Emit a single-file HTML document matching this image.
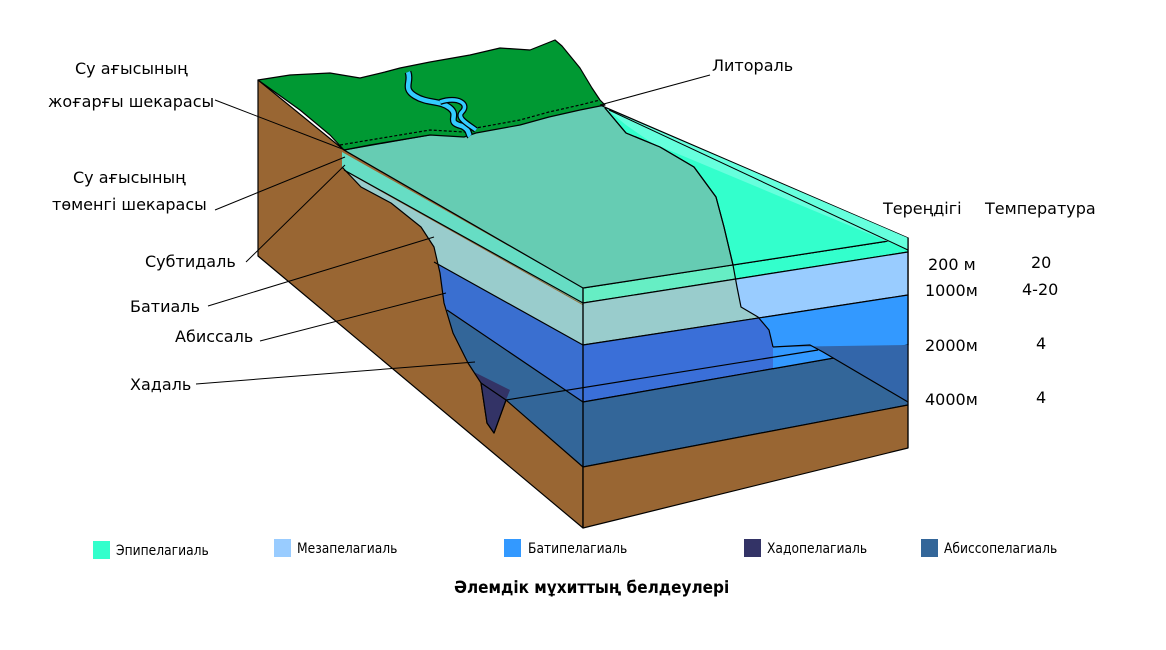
<!DOCTYPE html>
<html><head><meta charset="utf-8"><style>
body{margin:0;background:#fff;width:1166px;height:645px;overflow:hidden}
svg text{font-family:"DejaVu Sans","Liberation Sans",sans-serif;fill:#000}
.lg{font-family:"Liberation Sans",sans-serif;font-size:14px;transform:scaleX(.85)}
</style></head><body>
<svg width="1166" height="645" viewBox="0 0 1166 645" xmlns="http://www.w3.org/2000/svg">
<defs>
<clipPath id="lf"><polygon points="342,152 583,288 583,467 506,400 494,433 487,423 481,383 468,363 453,333 444,303 440,273 434,247 421,227 391,203 361,187 342,167"/></clipPath>
<clipPath id="rr"><polygon points="733,240 733,265 737,287 741,307 758,317 769,330 773,347 773,600 920,600 920,200"/></clipPath>
</defs>
<g stroke="#000" stroke-width="1.2" stroke-linejoin="round">
<!-- brown left face -->
<polygon points="258,80 344,150 583,288 583,528 258,256" fill="#996633"/>
<!-- left face water layers -->
<g clip-path="url(#lf)" stroke="none">
<polygon points="300,100 620,280 620,325 300,145" fill="#66ddc4"/>
<polygon points="300,146 620,326 620,366 300,187" fill="#99cccc"/>
<polygon points="300,187 620,366 620,427 300,211" fill="#3a6fd0"/>
<polygon points="300,212 620,427 620,520 300,300" fill="#336699"/>
<polygon points="440,400 494,433 506,400 510,390 470,370" fill="#333366"/>
</g>
<polyline fill="none" points="342,167 361,187 391,203 421,227 434,247 440,273 444,303 453,333 468,363 481,383 487,423 494,433 506,400"/>
<line x1="344" y1="170" x2="583" y2="303"/>
<line x1="434" y1="262" x2="583" y2="345"/>
<line x1="447" y1="310" x2="583" y2="402"/>
<polygon points="481,383 487,423 494,433 506,400" fill="#333366"/>
<line x1="506" y1="400" x2="583" y2="467"/>
<!-- front face -->
<polygon points="583,288 908,238 908,252 583,303" fill="#66eec4"/>
<polygon points="583,303 908,252 908,295 583,345" fill="#99cccc"/>
<polygon points="583,345 908,295 908,345 583,402" fill="#3a6fd8"/>
<polygon points="583,402 908,345 908,405 583,467" fill="#336699"/>
<polygon points="583,467 908,405 908,448 583,528" fill="#996633"/>
<g clip-path="url(#rr)">
<polygon points="583,288 908,238 908,252 583,303" fill="#33ffcc"/>
<polygon points="583,303 908,252 908,295 583,345" fill="#99ccff"/>
<polygon points="583,345 908,295 908,345 583,402" fill="#3399ff"/>
</g>
<polygon points="773,347 810,345 908,402 908,345" fill="#3366aa" stroke="none"/>
<polyline fill="none" points="773,347 810,345 823,352 908,402"/>
<line x1="506" y1="400" x2="818" y2="350"/>
<!-- top surface -->
<polygon points="344,150 600,105 908,238 583,288" fill="#66ccb3"/>
<polygon points="605,108 626,133 660,147 694,167 716,197 724,227 733,265 908,238" fill="#33ffcc"/>
<polygon points="605,108 908,238 908,250 652,143 626,125" fill="#66ffdd" stroke="none"/>
<line x1="609" y1="110" x2="908" y2="250" stroke-width="1"/>
<polyline fill="none" points="605,108 626,133 660,147 694,167 716,197 724,227 733,265 737,287 741,307 758,317 769,330 773,347"/>
<line x1="583" y1="288" x2="583" y2="528"/>
<line x1="908" y1="238" x2="908" y2="448"/>
<!-- land -->
<polygon points="258,80 290,75 330,73 360,78 385,72 400,68 430,62 470,55 500,48 530,50 555,40 562,46 580,68 592,88 600,100 605,105 580,110 549,117 520,125 476,133 464,137 430,135 400,140 370,145 344,150 330,135 300,110" fill="#009933"/>
<polyline fill="none" stroke-dasharray="3,2" points="340,145 370,140 400,135 430,130 464,132 476,128 520,120 549,112 580,105 600,100"/>
<path d="M408,72 C412,82 402,88 415,96 C428,104 440,100 450,108 C460,116 445,122 462,126 C470,130 468,134 470,136" fill="none" stroke="#000" stroke-width="7"/>
<path d="M408,72 C412,82 402,88 415,96 C428,104 440,100 450,108 C460,116 445,122 462,126 C470,130 468,134 470,136" fill="none" stroke="#33ccff" stroke-width="4.5"/>
<path d="M440,102 C458,96 470,104 462,112 C456,118 468,124 476,130" fill="none" stroke="#000" stroke-width="6"/>
<path d="M440,102 C458,96 470,104 462,112 C456,118 468,124 476,130" fill="none" stroke="#33ccff" stroke-width="3.5"/>
<!-- leaders -->
<g stroke-width="1">
<line x1="215" y1="100" x2="345" y2="150"/>
<line x1="215" y1="210" x2="345" y2="157"/>
<line x1="246" y1="262" x2="345" y2="165"/>
<line x1="208" y1="306" x2="434" y2="237"/>
<line x1="260" y1="341" x2="446" y2="293"/>
<line x1="196" y1="384" x2="475" y2="362"/>
<line x1="710" y1="75" x2="600" y2="105"/>
</g>
</g>
<g font-size="16">
<text x="75" y="74">Су ағысының</text>
<text x="48" y="107">жоғарғы шекарасы</text>
<text x="73" y="183">Су ағысының</text>
<text x="52" y="210">төменгі шекарасы</text>
<text x="145" y="267">Субтидаль</text>
<text x="130" y="312">Батиаль</text>
<text x="175" y="342">Абиссаль</text>
<text x="130" y="390">Хадаль</text>
<text x="712" y="71">Литораль</text>
<text x="883" y="214">Тереңдігі</text>
<text x="985" y="214">Температура</text>
<text x="928" y="270">200 м</text>
<text x="925" y="296">1000м</text>
<text x="925" y="351">2000м</text>
<text x="925" y="405">4000м</text>
<text x="1031" y="268">20</text>
<text x="1022" y="295">4-20</text>
<text x="1036" y="349">4</text>
<text x="1036" y="403">4</text>
</g>
<rect x="93" y="541" width="17" height="18" fill="#33ffcc"/>
<rect x="274" y="539" width="17" height="18" fill="#99ccff"/>
<rect x="504" y="539" width="17" height="18" fill="#3399ff"/>
<rect x="744" y="539" width="17" height="18" fill="#333366"/>
<rect x="921" y="539" width="17" height="18" fill="#336699"/>
<g font-family="Liberation Sans" font-size="14">
<text transform="translate(116,555) scale(.88,1)">Эпипелагиаль</text>
<text transform="translate(297,553) scale(.88,1)">Мезапелагиаль</text>
<text transform="translate(528,553) scale(.88,1)">Батипелагиаль</text>
<text transform="translate(767,553) scale(.88,1)">Хадопелагиаль</text>
<text transform="translate(944,553) scale(.88,1)">Абиссопелагиаль</text>
<text transform="translate(454,593) scale(.9,1)" font-weight="bold" font-size="17">Әлемдік мұхиттың  белдеулері</text>
</g>
</svg>
</body></html>
